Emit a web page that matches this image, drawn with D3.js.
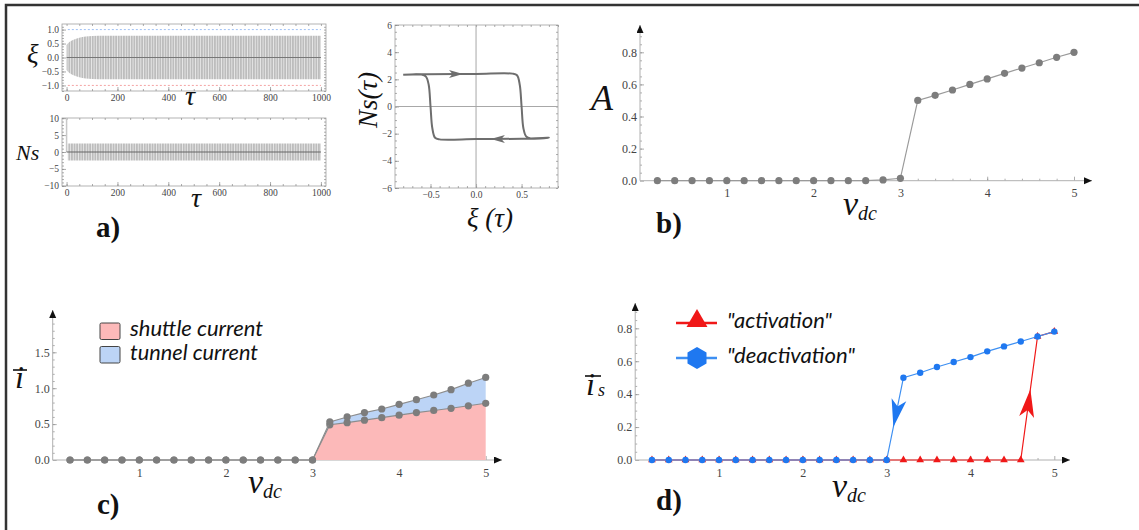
<!DOCTYPE html>
<html>
<head>
<meta charset="utf-8">
<script src="https://cdn.jsdelivr.net/npm/d3@7"></script>
<style>
body { margin: 0; background: #fff; }
svg { display: block; }
</style>
</head>
<body>
<svg id="fig" width="1139" height="530"></svg>
<script>
// ---- data ----
// bias voltage grid used in b), c), d)
const vdc = [0.2, 0.4, 0.6, 0.8, 1.0, 1.2, 1.4, 1.6, 1.8, 2.0, 2.2, 2.4, 2.6,
             2.8, 3.0, 3.2, 3.4, 3.6, 3.8, 4.0, 4.2, 4.4, 4.6, 4.8, 5.0];
// b) amplitude
const ampA = [0, 0, 0, 0, 0, 0, 0, 0, 0, 0, 0, 0, 0, 0.005, 0.015,
              0.5, 0.532, 0.565, 0.6, 0.634, 0.669, 0.702, 0.735, 0.769, 0.8];
// c) shuttle current and total (shuttle + tunnel) current
const shuttleI = [0, 0, 0, 0, 0, 0, 0, 0, 0, 0, 0, 0, 0, 0, 0,
                  0.49, 0.52, 0.555, 0.59, 0.625, 0.66, 0.69, 0.72, 0.755, 0.79];
const totalI = [0, 0, 0, 0, 0, 0, 0, 0, 0, 0, 0, 0, 0, 0, 0,
                0.53, 0.6, 0.66, 0.71, 0.775, 0.84, 0.905, 0.98, 1.07, 1.15];
// d) shuttle current, sweeping up / down
const activation = [0, 0, 0, 0, 0, 0, 0, 0, 0, 0, 0, 0, 0, 0, 0, 0, 0, 0, 0, 0, 0, 0, 0,
                    0.75, 0.78];
const deactivation = [0, 0, 0, 0, 0, 0, 0, 0, 0, 0, 0, 0, 0, 0, 0,
                      0.5, 0.53, 0.565, 0.595, 0.625, 0.66, 0.69, 0.72, 0.75, 0.78];

// a) envelopes of the time traces
const xiTau = [0, 10, 25, 50, 75, 100, 150, 1000];
const xiAmp = [0.45, 0.55, 0.63, 0.71, 0.75, 0.77, 0.78, 0.78];
const nsTau = [5, 1000];
const nsAmp = [2.5, 2.5];
const nsKick = [[0, 0], [0, 10]];
// a) hysteresis loop Ns(xi)
const loopXi = [-0.8, -0.6, 0, 0.4, 0.45, 0.48, 0.5, 0.52, 0.55, 0.6, 0.8,
                0.6, 0, -0.4, -0.45, -0.48, -0.5, -0.52, -0.55, -0.6, -0.8];
const loopNs = [2.33, 2.38, 2.4, 2.42, 2.3, 1.6, 0, -1.6, -2.2, -2.35, -2.3,
                -2.36, -2.4, -2.42, -2.3, -1.6, 0, 1.6, 2.2, 2.35, 2.33];

// tick labels
const tauTicks = [0, 200, 400, 600, 800, 1000];
const xiTicks = [-1, -0.5, 0, 0.5, 1];
const nsTicks = [-10, -5, 0, 5, 10];
const loopXTicks = [-0.5, 0, 0.5];
const loopYTicks = [-6, -4, -2, 0, 2, 4, 6];
const vTicks = [1, 2, 3, 4, 5];
const aTicks = [0, 0.2, 0.4, 0.6, 0.8];
const iTicks = [0, 0.5, 1, 1.5];

const serif = "'Liberation Serif', 'DejaVu Serif', 'Noto Serif', serif";
const sans = "Lato, 'Open Sans', sans-serif";

const svg = d3.select('#fig');
const defs = svg.append('defs');

defs.append('marker')
    .attr('id', 'arr')
    .attr('markerUnits', 'userSpaceOnUse')
    .attr('markerWidth', 10).attr('markerHeight', 8)
    .attr('refX', 8).attr('refY', 3.5)
    .attr('orient', 'auto')
  .append('path')
    .attr('d', 'M0,0 L8,3.5 L0,7 Z')
    .attr('fill', '#111');

// vertical stripes for the dense oscillation
const pat = defs.append('pattern')
    .attr('id', 'osc')
    .attr('patternUnits', 'userSpaceOnUse')
    .attr('width', 2.6).attr('height', 10);
pat.append('rect').attr('width', 2.6).attr('height', 10).attr('fill', '#bdbdbd');
pat.append('rect').attr('width', 0.8).attr('height', 10).attr('fill', '#ececec');

// outer frame
svg.append('path')
    .attr('d', 'M6,530 L6,5 L1139,5')
    .attr('fill', 'none')
    .attr('stroke', '#333')
    .attr('stroke-width', 2.5);

// ---------- helpers ----------
function styleAxis(g, size) {
    g.attr('font-family', null).attr('font-size', null);
    g.style('font-family', serif).style('font-size', size + 'px');
    g.select('.domain').remove();
    g.selectAll('line').attr('stroke', '#8a8a8a').attr('stroke-width', 0.7);
    g.selectAll('text').attr('fill', '#444');
}

function minorVals(lo, hi, step) {
    return d3.range(Math.round(lo / step), Math.round(hi / step) + 1).map(k => k * step);
}

// Mathematica style framed plot
function framed(x, y, xt, yt, fx, fy, xStep, yStep) {
    const g = svg.append('g');
    const [xa, xb] = x.range();
    const [ya, yb] = y.range();
    g.append('rect')
        .attr('x', xa).attr('y', yb)
        .attr('width', xb - xa).attr('height', ya - yb)
        .attr('fill', 'none').attr('stroke', '#a0a0a0').attr('stroke-width', 0.8);
    const xm = minorVals(x.domain()[0], x.domain()[1], xStep).filter(v => x(v) >= xa && x(v) <= xb);
    const ym = minorVals(y.domain()[0], y.domain()[1], yStep).filter(v => y(v) <= ya && y(v) >= yb);

    g.append('g').attr('transform', `translate(0,${ya})`)
        .call(d3.axisBottom(x).tickValues(xt).tickSizeInner(-4).tickSizeOuter(0).tickPadding(3).tickFormat(fx))
        .call(s => styleAxis(s, 9.5));
    g.append('g').attr('transform', `translate(0,${ya})`)
        .call(d3.axisBottom(x).tickValues(xm).tickSize(-2).tickFormat(''))
        .call(s => styleAxis(s, 9));
    g.append('g').attr('transform', `translate(0,${yb})`)
        .call(d3.axisTop(x).tickValues(xm).tickSize(-2).tickFormat(''))
        .call(s => styleAxis(s, 9));
    g.append('g').attr('transform', `translate(${xa},0)`)
        .call(d3.axisLeft(y).tickValues(yt).tickSizeInner(-4).tickSizeOuter(0).tickPadding(3).tickFormat(fy))
        .call(s => styleAxis(s, 9.5));
    g.append('g').attr('transform', `translate(${xa},0)`)
        .call(d3.axisLeft(y).tickValues(ym).tickSize(-2).tickFormat(''))
        .call(s => styleAxis(s, 9));
    g.append('g').attr('transform', `translate(${xb},0)`)
        .call(d3.axisRight(y).tickValues(ym).tickSize(-2).tickFormat(''))
        .call(s => styleAxis(s, 9));
    return g;
}

// axes through the origin with arrow heads
function arrowAxes(x, y, xEnd, yEnd, yt, fy, yStep) {
    const g = svg.append('g');
    const ox = x(0), oy = y(0);
    g.append('g').attr('transform', `translate(0,${oy})`)
        .call(d3.axisBottom(x).tickValues(vTicks).tickSizeInner(-4).tickSizeOuter(0).tickPadding(8).tickFormat(d3.format('d')))
        .call(s => styleAxis(s, 12));
    g.append('g').attr('transform', `translate(0,${oy})`)
        .call(d3.axisBottom(x).tickValues(minorVals(0.2, 4.8, 0.2)).tickSize(-2).tickFormat(''))
        .call(s => styleAxis(s, 9));
    g.append('g').attr('transform', `translate(${ox},0)`)
        .call(d3.axisLeft(y).tickValues(yt).tickSizeInner(-4).tickSizeOuter(0).tickPadding(3).tickFormat(fy))
        .call(s => styleAxis(s, 12));
    const top = y.invert(yEnd + 8);
    g.append('g').attr('transform', `translate(${ox},0)`)
        .call(d3.axisLeft(y).tickValues(minorVals(yStep, top, yStep)).tickSize(-2).tickFormat(''))
        .call(s => styleAxis(s, 9));
    g.append('line')
        .attr('x1', ox).attr('y1', oy).attr('x2', xEnd).attr('y2', oy)
        .attr('stroke', '#b0b0b0').attr('stroke-width', 1)
        .attr('marker-end', 'url(#arr)');
    g.append('line')
        .attr('x1', ox).attr('y1', oy).attr('x2', ox).attr('y2', yEnd)
        .attr('stroke', '#b0b0b0').attr('stroke-width', 1)
        .attr('marker-end', 'url(#arr)');
    return g;
}

function italicLabel(txt, x, y, size, anchor) {
    return svg.append('text')
        .attr('x', x).attr('y', y)
        .style('font-family', serif).style('font-style', 'italic')
        .style('font-size', size + 'px').attr('fill', '#111')
        .attr('text-anchor', anchor || 'start')
        .text(txt);
}

function vdcLabel(x, y) {
    const t = svg.append('text')
        .attr('x', x).attr('y', y)
        .style('font-family', serif).style('font-style', 'italic').attr('fill', '#111');
    t.append('tspan').style('font-size', '34px').text('v');
    t.append('tspan').style('font-size', '20px').attr('dy', 5).attr('dx', 0).text('dc');
}

function panelTag(txt, x, y) {
    svg.append('text')
        .attr('x', x).attr('y', y)
        .style('font-family', serif).style('font-weight', 'bold')
        .style('font-size', '29px').attr('fill', '#111')
        .text(txt);
}

// ---------- a) xi(tau) ----------
const xA = d3.scaleLinear().domain([-18, 1020]).range([62, 326]);
const yXi = d3.scaleLinear().domain([-1.2, 1.2]).range([91, 24]);
framed(xA, yXi, tauTicks, xiTicks, d3.format('d'), d3.format('.1f'), 50, 0.1);

const xiEnv = xiTau.map((t, i) => ({ t: t, a: xiAmp[i] }));
svg.append('path')
    .datum(xiEnv)
    .attr('d', d3.area().x(d => xA(d.t)).y0(d => yXi(-d.a)).y1(d => yXi(d.a)).curve(d3.curveMonotoneX))
    .attr('fill', 'url(#osc)');
svg.append('line')
    .attr('x1', xA(0)).attr('x2', xA(1000)).attr('y1', yXi(0)).attr('y2', yXi(0))
    .attr('stroke', '#777').attr('stroke-width', 1.2);
[[1, '#9fc0f5'], [-1, '#f5a3a3']].forEach(([v, c]) => {
    svg.append('line')
        .attr('x1', xA(5)).attr('x2', xA(1000)).attr('y1', yXi(v)).attr('y2', yXi(v))
        .attr('stroke', c).attr('stroke-width', 1).attr('stroke-dasharray', '2,2');
});
italicLabel('ξ', 27, 63, 27);
italicLabel('τ', 190, 105, 28, 'middle');

// ---------- a) Ns(tau) ----------
const yNs = d3.scaleLinear().domain([-10.05, 10.05]).range([186, 118]);
framed(xA, yNs, tauTicks, nsTicks, d3.format('d'), d3.format('d'), 50, 1);
svg.append('path')
    .datum(nsTau.map((t, i) => ({ t: t, a: nsAmp[i] })))
    .attr('d', d3.area().x(d => xA(d.t)).y0(d => yNs(-d.a)).y1(d => yNs(d.a)))
    .attr('fill', 'url(#osc)');
svg.append('path')
    .datum(nsKick)
    .attr('d', d3.line().x(d => xA(d[0])).y(d => yNs(d[1])))
    .attr('stroke', '#c8c8c8').attr('stroke-width', 1.5);
svg.append('line')
    .attr('x1', xA(0)).attr('x2', xA(1000)).attr('y1', yNs(0)).attr('y2', yNs(0))
    .attr('stroke', '#666').attr('stroke-width', 1.2);
italicLabel('Ns', 16, 160, 22);
italicLabel('τ', 196, 207, 28, 'middle');

panelTag('a)', 96, 237);

// ---------- a) hysteresis loop ----------
const xL = d3.scaleLinear().domain([-0.89, 0.9]).range([395, 558]);
const yL = d3.scaleLinear().domain([-6, 6]).range([188, 25]);
framed(xL, yL, loopXTicks, loopYTicks, d3.format('.1f'), d3.format('d'), 0.1, 0.5);
svg.append('line').attr('x1', xL(0)).attr('x2', xL(0)).attr('y1', 25).attr('y2', 188)
    .attr('stroke', '#a8a8a8').attr('stroke-width', 1);
svg.append('line').attr('x1', 395).attr('x2', 558).attr('y1', yL(0)).attr('y2', yL(0))
    .attr('stroke', '#a8a8a8').attr('stroke-width', 1);
svg.append('path')
    .datum(loopXi.map((v, i) => [v, loopNs[i]]))
    .attr('d', d3.line().x(d => xL(d[0])).y(d => yL(d[1])).curve(d3.curveCatmullRom.alpha(0.5)))
    .attr('fill', 'none').attr('stroke', '#6e6e6e').attr('stroke-width', 2);

function flatArrow(x, y, dir, c) {
    // small arrow head on a horizontal branch, dir = +1 right, -1 left
    svg.append('path')
        .attr('d', `M${x + dir * 7},${y} L${x - dir * 7},${y - 4} L${x - dir * 3.5},${y} L${x - dir * 7},${y + 4} Z`)
        .attr('fill', c);
}
flatArrow(xL(-0.22), yL(2.4), 1, '#6e6e6e');
flatArrow(xL(0.24), yL(-2.4), -1, '#6e6e6e');

svg.append('text')
    .attr('transform', 'translate(377,100) rotate(-90)')
    .style('font-family', serif).style('font-style', 'italic')
    .style('font-size', '27px').attr('text-anchor', 'middle').attr('fill', '#111')
    .text('Ns(τ)');
italicLabel('ξ (τ)', 490, 227, 27, 'middle');

// ---------- b) amplitude ----------
const xB = d3.scaleLinear().domain([0, 5]).range([640, 1074]);
const yB = d3.scaleLinear().domain([0, 0.8]).range([180.7, 52.3]);
arrowAxes(xB, yB, 1092, 25, aTicks, d3.format('.1f'), 0.05);
svg.append('path')
    .datum(vdc.map((v, i) => [v, ampA[i]]))
    .attr('d', d3.line().x(d => xB(d[0])).y(d => yB(d[1])))
    .attr('fill', 'none').attr('stroke', '#9a9a9a').attr('stroke-width', 1.2);
svg.append('g').selectAll('circle')
    .data(vdc.map((v, i) => [v, ampA[i]]))
    .join('circle')
    .attr('cx', d => xB(d[0])).attr('cy', d => yB(d[1])).attr('r', 3.6)
    .attr('fill', '#7d7d7d');
italicLabel('A', 591, 110, 36);
vdcLabel(843, 215);
panelTag('b)', 656, 233);

// ---------- c) currents ----------
const xC = d3.scaleLinear().domain([0, 5]).range([52.7, 485.7]);
const yC = d3.scaleLinear().domain([0, 1.5]).range([460, 352.3]);
arrowAxes(xC, yC, 502, 310, iTicks, d3.format('.1f'), 0.1);

const cRows = vdc.map((v, i) => ({ v: v, s: shuttleI[i], t: totalI[i] }));
const cFill = cRows.filter(d => d.v >= 3);
svg.append('path')
    .datum(cFill)
    .attr('d', d3.area().x(d => xC(d.v)).y0(yC(0)).y1(d => yC(d.s)))
    .attr('fill', '#fcb9b9');
svg.append('path')
    .datum(cFill)
    .attr('d', d3.area().x(d => xC(d.v)).y0(d => yC(d.s)).y1(d => yC(d.t)))
    .attr('fill', '#bcd4f6');
['s', 't'].forEach(k => {
    svg.append('path')
        .datum(cRows)
        .attr('d', d3.line().x(d => xC(d.v)).y(d => yC(d[k])))
        .attr('fill', 'none').attr('stroke', '#8c8c8c').attr('stroke-width', 1.1);
    svg.append('g').selectAll('circle')
        .data(cRows)
        .join('circle')
        .attr('cx', d => xC(d.v)).attr('cy', d => yC(d[k])).attr('r', 3.6)
        .attr('fill', '#7d7d7d');
});

const cLegend = [['shuttle current', '#fcb9b9', 323, 133], ['tunnel current', '#bcd4f6', 346.5, 128]];
cLegend.forEach(([name, col, y0, w]) => {
    svg.append('rect')
        .attr('x', 100).attr('y', y0).attr('width', 20).attr('height', 16.5).attr('rx', 1.5)
        .attr('fill', col).attr('stroke', '#444').attr('stroke-width', 1);
    svg.append('text')
        .attr('x', 130).attr('y', y0 + 13)
        .style('font-family', sans).style('font-style', 'italic')
        .style('font-size', '21px').attr('fill', '#111')
        .attr('textLength', w).attr('lengthAdjust', 'spacingAndGlyphs')
        .text(name);
});

// i with an overbar
italicLabel('i', 15, 388, 32);
svg.append('line').attr('x1', 13).attr('x2', 27).attr('y1', 370).attr('y2', 370)
    .attr('stroke', '#111').attr('stroke-width', 1.6);
vdcLabel(248, 493);
panelTag('c)', 97, 514);

// ---------- d) hysteresis of shuttle current ----------
const xD = d3.scaleLinear().domain([0, 5]).range([635.2, 1054.3]);
const yD = d3.scaleLinear().domain([0, 0.8]).range([460, 328.3]);
arrowAxes(xD, yD, 1070, 303, aTicks, d3.format('.1f'), 0.05);

const red = '#f01818', blue = '#1f78f0';
const actPts = vdc.map((v, i) => [v, activation[i]]);
const deaPts = vdc.map((v, i) => [v, deactivation[i]]);
const tri = d3.symbol().type(d3.symbolTriangle);
const hex = 'M0,-11 L9.5,-5.5 L9.5,5.5 L0,11 L-9.5,5.5 L-9.5,-5.5 Z';

svg.append('path')
    .datum(actPts)
    .attr('d', d3.line().x(d => xD(d[0])).y(d => yD(d[1])))
    .attr('fill', 'none').attr('stroke', red).attr('stroke-width', 1.2);
svg.append('g').selectAll('path')
    .data(actPts)
    .join('path')
    .attr('transform', d => `translate(${xD(d[0])},${yD(d[1])})`)
    .attr('d', tri.size(26)())
    .attr('fill', red);
svg.append('path')
    .datum(deaPts)
    .attr('d', d3.line().x(d => xD(d[0])).y(d => yD(d[1])))
    .attr('fill', 'none').attr('stroke', '#3d8ff2').attr('stroke-width', 1.2);
svg.append('g').selectAll('circle')
    .data(deaPts)
    .join('circle')
    .attr('cx', d => xD(d[0])).attr('cy', d => yD(d[1])).attr('r', 3.2)
    .attr('fill', blue);

// big arrow heads along the jump segments
function jumpArrow(p0, p1, tipVal, c) {
    const ax = xD(p0[0]), ay = yD(p0[1]), bx = xD(p1[0]), by = yD(p1[1]);
    const t = (tipVal - p0[1]) / (p1[1] - p0[1]);
    const tx = ax + (bx - ax) * t, ty = ay + (by - ay) * t;
    const ang = Math.atan2(by - ay, bx - ax) * 180 / Math.PI;
    svg.append('path')
        .attr('transform', `translate(${tx},${ty}) rotate(${ang})`)
        .attr('d', 'M0,0 L-28,-7.5 L-21,0 L-28,7.5 Z')
        .attr('fill', c);
}
jumpArrow(deaPts[15], deaPts[14], 0.2, blue);
jumpArrow(actPts[22], actPts[23], 0.43, red);

// legend
svg.append('line').attr('x1', 676).attr('x2', 717).attr('y1', 323).attr('y2', 323)
    .attr('stroke', red).attr('stroke-width', 2.5);
svg.append('path').attr('transform', 'translate(697,321)').attr('d', tri.size(190)()).attr('fill', red);
svg.append('line').attr('x1', 676).attr('x2', 717).attr('y1', 358).attr('y2', 358)
    .attr('stroke', '#3d8ff2').attr('stroke-width', 2.5);
svg.append('path').attr('transform', 'translate(697,358)').attr('d', hex).attr('fill', blue);
[['"activation"', 328, 105], ['"deactivation"', 363, 128]].forEach(([txt, y, w]) => {
    svg.append('text')
        .attr('x', 727).attr('y', y)
        .style('font-family', sans).style('font-style', 'italic')
        .style('font-size', '22px').attr('fill', '#111')
        .attr('textLength', w).attr('lengthAdjust', 'spacingAndGlyphs')
        .text(txt);
});

italicLabel('i', 586, 395, 32);
svg.append('line').attr('x1', 585).attr('x2', 601).attr('y1', 376).attr('y2', 376)
    .attr('stroke', '#111').attr('stroke-width', 1.6);
italicLabel('s', 598, 396, 18);
vdcLabel(832, 497);
panelTag('d)', 656, 510);
</script>
</body>
</html>
